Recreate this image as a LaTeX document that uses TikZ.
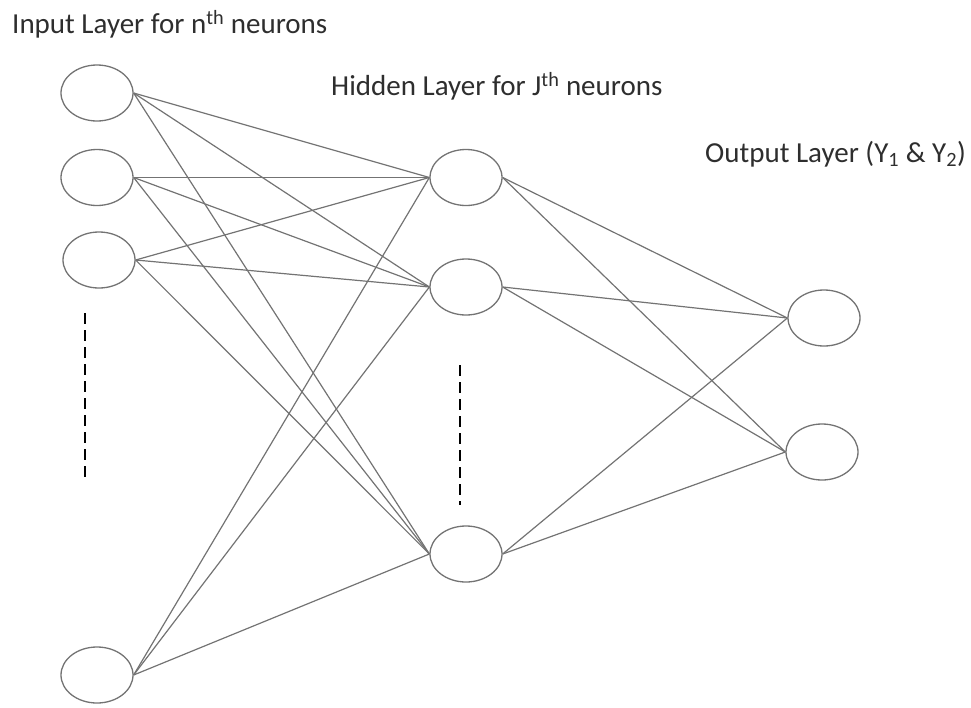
\documentclass[tikz,border=0pt]{standalone}
\usepackage{fontspec}
\setmainfont{Carlito}
\usetikzlibrary{shapes.geometric}
\definecolor{wire}{HTML}{737373}
\definecolor{ink}{HTML}{2E2E2E}
\begin{document}
\begin{tikzpicture}[x=1pt,y=-1pt,
  neuron/.style={ellipse, draw=wire, line width=1.3pt, minimum width=72pt, minimum height=56pt, inner sep=0pt},
  link/.style={draw=wire, line width=1.2pt},
  gap/.style={draw=black, line width=1.4pt, dash pattern=on 11pt off 6pt},
  caption/.style={text=ink, font=\fontsize{29}{32}\selectfont, inner sep=0pt, anchor=west}]
\useasboundingbox (0,0) rectangle (971,707);

% labels
\node[caption] (linput) at (12,24) {Input Layer for n\textsuperscript{th} neurons};
\node[caption] (lhidden) at (331,86) {Hidden Layer for J\textsuperscript{th} neurons};
\node[caption] (loutput) at (705,154) {Output Layer (Y\textsubscript{1} \& Y\textsubscript{2})};

% neurons
\node[neuron] (i1) at (97,93) {};
\node[neuron] (i2) at (97,177.5) {};
\node[neuron] (i3) at (99,260) {};
\node[neuron] (i4) at (97,675) {};
\node[neuron] (h1) at (466,177.5) {};
\node[neuron] (h2) at (466,287) {};
\node[neuron] (h3) at (466,554) {};
\node[neuron] (o1) at (824,318) {};
\node[neuron] (o2) at (822,452) {};

% skipped neurons
\coordinate (ga) at (85,313);
\coordinate (gb) at (85,478);
\coordinate (gc) at (460,365);
\coordinate (gd) at (460,505);
\draw[gap] (ga) -- (gb);
\draw[gap] (gc) -- (gd);

% connections
\foreach \i in {i1,i2,i3,i4}
  \foreach \h in {h1,h2,h3}
    \draw[link] (\i.east) -- (\h.west);
\foreach \h in {h1,h2,h3}
  \foreach \o in {o1,o2}
    \draw[link] (\h.east) -- (\o.west);
\end{tikzpicture}
\end{document}
